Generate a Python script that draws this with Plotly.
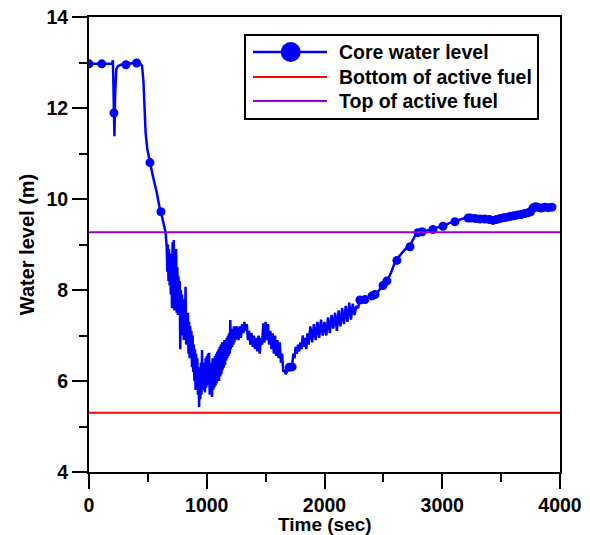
import plotly.graph_objects as go

# ---- data ----
time_s = [0, 50, 108, 150, 195, 203, 208, 212, 216, 222, 232, 245, 270, 314, 350, 390, 405, 430, 450, 462,
          472, 481, 495, 505, 518, 545, 575, 600, 611, 630, 651,
          655, 660, 665, 670, 675, 680, 685, 690, 695, 700,
          705, 710, 715, 720, 725, 730, 735, 740, 745, 750,
          755, 760, 765, 770, 775, 780, 785, 790, 795, 800,
          805, 810, 815, 820, 825, 830, 835, 840, 845, 850,
          855, 860, 865, 870, 875, 880, 885, 890, 895, 900,
          905, 910, 915, 920, 925, 930, 935, 940, 945, 950,
          955, 960, 965, 970, 975, 980, 985, 990, 995, 1000,
          1005, 1010, 1015, 1020, 1025, 1030, 1035, 1040, 1045, 1050,
          1055, 1060, 1065, 1070, 1075, 1080, 1085, 1090, 1095, 1100,
          1105, 1110, 1115, 1120, 1125, 1130, 1135, 1140, 1145, 1150,
          1155, 1160, 1165, 1170, 1175, 1180, 1185, 1190, 1195, 1200,
          1205, 1210, 1215, 1220, 1225, 1230, 1235, 1240, 1245, 1250,
          1260, 1270, 1280, 1290, 1300, 1310, 1320, 1330, 1340, 1350, 1360,
          1370, 1380, 1390, 1400, 1410, 1420, 1430, 1440, 1450, 1460, 1470, 1480, 1490, 1500, 1510, 1520,
          1530, 1540, 1550, 1560, 1570, 1580, 1590, 1600, 1610, 1620, 1630, 1640, 1650, 1660, 1670, 1680,
          1690, 1700, 1710, 1725, 1735, 1745, 1755, 1765, 1775, 1785, 1795, 1805, 1815, 1825, 1835, 1845,
          1855, 1865, 1880, 1895, 1910, 1925, 1940, 1955, 1970, 1985, 2000, 2015, 2030, 2045, 2060, 2075,
          2090, 2105, 2120, 2135, 2150, 2165, 2180, 2195, 2210, 2225, 2240, 2255, 2270, 2285, 2300,
          2330, 2360, 2390, 2420, 2450, 2480, 2510, 2540, 2560, 2580, 2600, 2620, 2650, 2680, 2710, 2730,
          2750, 2770, 2790, 2820, 2860, 2900, 2940, 2980, 3020, 3060, 3100, 3140, 3180, 3220, 3260, 3300,
          3340, 3380, 3420, 3460, 3500, 3540, 3580, 3620, 3660, 3700, 3740, 3762, 3780, 3800, 3820, 3845,
          3870, 3900, 3932]
core_level = [12.97, 12.97, 12.97, 12.97, 12.97, 13.05, 12.5, 11.89, 11.38, 12.3, 12.85, 12.92, 12.95, 12.96,
              12.97, 12.99, 13.0, 12.99, 12.93, 12.6, 12.0, 11.45, 11.1, 10.95, 10.8, 10.48, 10.15, 9.8, 9.72,
              9.5, 9.26,
              9.1, 8.95, 8.4, 9.0, 8.2, 8.9, 8.1, 8.7, 7.9, 8.8,
              7.6, 9.05, 7.8, 9.1, 7.55, 8.6, 7.7, 8.9, 7.5, 8.5,
              7.45, 8.3, 7.6, 8.2, 6.7, 8.0, 7.2, 7.9, 7.0, 7.8,
              6.9, 7.7, 7.0, 8.07, 6.8, 7.4, 6.9, 7.5, 6.6, 7.3,
              6.5, 7.2, 6.6, 7.1, 6.3, 7.0, 6.2, 6.8, 6.0, 6.7,
              5.8, 6.6, 5.9, 6.5, 5.7, 6.3, 5.43, 6.2, 5.6, 6.4,
              5.7, 6.68, 5.9, 6.3, 5.8, 6.4, 5.75, 6.5, 5.85, 6.55,
              5.9, 6.6, 6.0, 6.62, 5.7, 6.3, 5.75, 6.4, 5.65, 6.5,
              5.8, 6.45, 5.85, 6.55, 5.9, 6.6, 5.95, 6.65, 6.05, 6.7,
              6.0, 6.75, 6.1, 6.8, 6.15, 6.85, 6.25, 6.8, 6.3, 6.9,
              6.35, 6.9, 6.45, 6.95, 6.5, 7.0, 6.55, 7.05, 6.6, 7.34,
              6.7, 7.1, 6.75, 7.15, 6.8, 7.2, 6.85, 7.15, 6.9, 7.2,
              7.15, 6.9, 7.2, 6.95, 7.25, 7.05, 7.3, 7.1, 7.25, 6.9, 7.1, 6.8, 7.05,
              6.75, 7.0, 6.7, 6.95, 6.65, 7.0, 6.6, 6.95, 6.8, 7.27, 6.85, 7.3, 6.9, 7.25, 6.8, 7.1, 6.7, 7.05,
              6.6, 7.0, 6.55, 6.9, 6.5, 6.85, 6.4, 6.6, 6.2, 6.25, 6.15, 6.2, 6.25, 6.3, 6.28, 6.31, 6.6, 6.5,
              6.75, 6.6, 6.8, 6.65, 6.85, 6.7, 7.0, 6.75, 6.95, 6.7, 7.05, 6.8, 7.2, 6.85, 7.25, 6.9, 7.3, 6.95,
              7.35, 7.0, 7.3, 7.0, 7.4, 7.05, 7.45, 7.15, 7.5, 7.1, 7.55, 7.2, 7.6, 7.25, 7.65, 7.3, 7.72, 7.35,
              7.7, 7.45, 7.65, 7.6, 7.78,
              7.78, 7.8, 7.85, 7.9, 7.95, 8.05, 8.15, 8.25, 8.35, 8.5, 8.62, 8.7, 8.8, 8.88, 8.95, 9.0,
              9.1, 9.2, 9.25, 9.28, 9.3, 9.33, 9.35, 9.38, 9.42, 9.47, 9.51, 9.54, 9.57, 9.58, 9.57, 9.56,
              9.56, 9.55, 9.53, 9.55, 9.58, 9.6, 9.62, 9.64, 9.66, 9.68, 9.71, 9.8, 9.84, 9.83, 9.82, 9.8,
              9.82, 9.81, 9.82]

marker_time = [0, 108, 212, 314, 405, 518, 611, 1700, 1725, 2301, 2344, 2403, 2429, 2497, 2530, 2615, 2726,
               2794, 2830, 2921, 3006, 3108, 3219, 3240, 3280, 3321, 3360, 3400, 3431, 3460, 3490, 3520,
               3550, 3580, 3610, 3640, 3670, 3700, 3730, 3750, 3770, 3790, 3810, 3840, 3870, 3900, 3932]
marker_level = [12.97, 12.97, 11.89, 12.95, 12.99, 10.8, 9.72, 6.3, 6.31, 7.78, 7.79, 7.87, 7.9, 8.1, 8.2,
                8.65, 8.95, 9.26, 9.28, 9.33, 9.4, 9.5, 9.58, 9.58, 9.57, 9.56, 9.56, 9.55, 9.53, 9.55, 9.57,
                9.59, 9.6, 9.62, 9.63, 9.65, 9.66, 9.68, 9.7, 9.72, 9.8, 9.83, 9.82, 9.8, 9.82, 9.81, 9.82]

x_range = [0, 4000]
bottom_active_fuel = [5.3, 5.3]
top_active_fuel = [9.27, 9.27]

x_ticks = [0, 1000, 2000, 3000, 4000]
y_ticks = [4, 6, 8, 10, 12, 14]

legend_names = ["Core water level", "Bottom of active fuel", "Top of active fuel"]
x_title = "Time (sec)"
y_title = "Water level (m)"

BLUE = "#0000ff"
RED = "#ff0000"
PURPLE = "#9900cc"
FONT = "Liberation Sans, Arial, sans-serif"

fig = go.Figure()

fig.add_trace(go.Scatter(x=time_s, y=core_level, mode="lines", name=legend_names[0],
                         line=dict(color=BLUE, width=2.5)))
fig.add_trace(go.Scatter(x=marker_time, y=marker_level, mode="markers", name=legend_names[0],
                         marker=dict(color=BLUE, size=9)))
fig.add_trace(go.Scatter(x=x_range, y=bottom_active_fuel, mode="lines", name=legend_names[1],
                         line=dict(color=RED, width=2)))
fig.add_trace(go.Scatter(x=x_range, y=top_active_fuel, mode="lines", name=legend_names[2],
                         line=dict(color=PURPLE, width=2)))

axis_common = dict(
    showline=True, linecolor="black", linewidth=2, mirror=True,
    ticks="outside", ticklen=15, tickwidth=2, tickcolor="black",
    showgrid=False, zeroline=False,
    tickfont=dict(family=FONT, size=19.5, color="black", weight="bold"),
)

fig.update_xaxes(range=[0, 4000], tickvals=x_ticks, ticktext=[str(v) for v in x_ticks],
                 minor=dict(dtick=500, ticklen=8, tickwidth=2, tickcolor="black", ticks="outside"),
                 **axis_common)
fig.update_yaxes(range=[4, 14], tickvals=y_ticks, ticktext=[str(v) for v in y_ticks],
                 minor=dict(dtick=1, ticklen=8, tickwidth=2, tickcolor="black", ticks="outside"),
                 title=dict(text=y_title, standoff=6,
                            font=dict(family=FONT, size=20, color="black", weight="bold")),
                 **axis_common)

# ---- legend box drawn in paper coordinates ----
box = dict(x0=0.3312, x1=0.9533, y0=0.7758, y1=0.9604)
row_y = [0.9231, 0.8681, 0.8154]
row_colors = [BLUE, RED, PURPLE]
line_x = [0.3482, 0.5053]
text_x = 0.5265

shapes = [dict(type="rect", xref="paper", yref="paper", line=dict(color="black", width=2),
               fillcolor="white", layer="above", **box)]
for yy, cc in zip(row_y, row_colors):
    shapes.append(dict(type="line", xref="paper", yref="paper", x0=line_x[0], x1=line_x[1],
                       y0=yy, y1=yy, line=dict(color=cc, width=2.5 if cc == BLUE else 2), layer="above"))
shapes.append(dict(type="circle", xref="paper", yref="paper", xsizemode="pixel", ysizemode="pixel",
                   xanchor=0.4282, yanchor=row_y[0], x0=-10, x1=10, y0=-10, y1=10,
                   fillcolor=BLUE, line=dict(color=BLUE, width=0), layer="above"))

annotations = [dict(text=name, x=text_x, y=yy, xref="paper", yref="paper", xanchor="left",
                    yanchor="middle", showarrow=False,
                    font=dict(family=FONT, size=19.5, color="black", weight="bold"))
               for name, yy in zip(legend_names, row_y)]
# x-axis title placed just below the tick labels
annotations.append(dict(text=x_title, x=0.5, y=0, xref="paper", yref="paper", xanchor="center",
                        yanchor="middle", yshift=-52, showarrow=False, borderpad=0,
                        font=dict(family=FONT, size=19, color="black", weight="bold")))

fig.update_layout(
    width=590, height=535,
    margin=dict(l=89, r=30, t=17, b=63, autoexpand=False),
    plot_bgcolor="white", paper_bgcolor="white",
    showlegend=False,
    shapes=shapes, annotations=annotations,
)

fig.write_html("out.html", config={"displayModeBar": False},
               post_script="document.body.style.margin='0px';")
